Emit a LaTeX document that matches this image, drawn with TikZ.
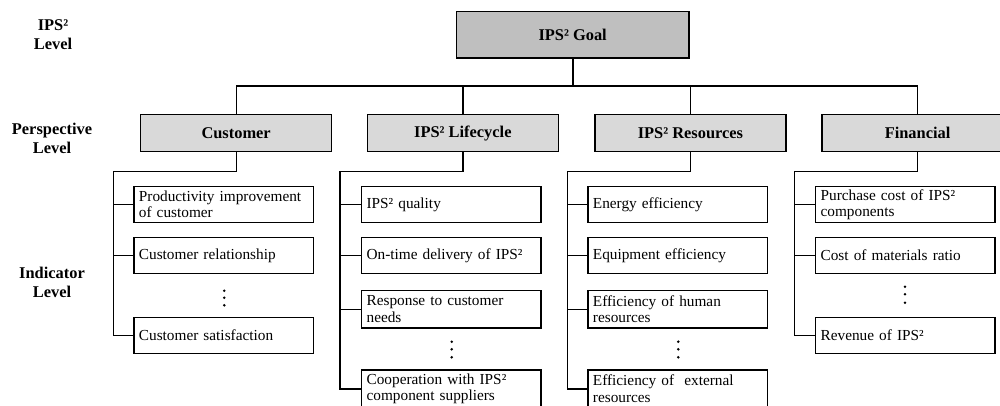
\documentclass[tikz,border=0pt]{standalone}
\usepackage{fontspec}
\setmainfont{Liberation Serif}
\definecolor{goalgray}{RGB}{191,191,191}
\definecolor{persgray}{RGB}{217,217,217}
\begin{document}
\begin{tikzpicture}[x=1pt,y=-1pt,
  ln/.style={line width=1.3pt},
  goalbox/.style={draw, line width=1.3pt, fill=goalgray, anchor=north west,
    minimum width=232.6pt, minimum height=46.6pt, inner sep=0pt,
    font=\bfseries\fontsize{16.4}{19}\selectfont},
  persbox/.style={draw, line width=1.3pt, fill=persgray, anchor=north west,
    minimum width=191pt, minimum height=36.7pt, inner sep=0pt,
    font=\bfseries\fontsize{16.4}{19}\selectfont},
  indbox/.style={draw, line width=1.2pt, fill=white, anchor=north west,
    text width=169.4pt, inner xsep=5pt, inner ysep=0pt, minimum height=36.4pt,
    align=left, font=\fontsize{15.3}{16.5}\selectfont},
  levlab/.style={align=center, font=\bfseries\fontsize{16.4}{19}\selectfont}]
\useasboundingbox (0,0) rectangle (1000,405);
\begin{scope}
\clip (0,0) rectangle (1000,405);
% level labels
\node[levlab] (lv1) at (53,35) {IPS²\\Level};
\node[levlab] (lv2) at (52,138) {Perspective\\Level};
\node[levlab] (lv3) at (52,282) {Indicator\\Level};
% goal
\node[goalbox] (goal) at (455.7,10.7) {IPS² Goal};
% perspectives
\node[persbox] (cust) at (140,114) {Customer};
\node[persbox] (life) at (366.7,114) {IPS² Lifecycle};
\node[persbox] (res) at (594.3,114) {IPS² Resources};
\node[persbox] (fin) at (821.4,114) {Financial};
% bus
\coordinate (bus) at (0,86);
\draw[line width=1.8pt] (goal.south) -- (goal.south |- bus);
\draw[ln] (cust.north) |- (bus -| fin.north) -- (fin.north);
\draw[ln] (life.north) -- (life.north |- bus);
\draw[ln] (res.north) -- (res.north |- bus);
% customer indicators
\node[indbox] (c1) at (133.3,185.7) {Productivity improvement\\of customer};
\node[indbox] (c2) at (133.3,236.7) {Customer relationship};
\node[indbox] (c3) at (133.3,316.7) {Customer satisfaction};
% lifecycle indicators
\node[indbox] (l1) at (361,185.7) {IPS² quality};
\node[indbox] (l2) at (361,236.7) {On-time delivery of IPS²};
\node[indbox, minimum height=37.3pt] (l3) at (361,290) {Response to customer\\needs};
\node[indbox, minimum height=38pt] (l4) at (361,369.3) {Cooperation with IPS²\\component suppliers};
% resources indicators
\node[indbox] (r1) at (587.3,185.7) {Energy efficiency};
\node[indbox] (r2) at (587.3,236.7) {Equipment efficiency};
\node[indbox, minimum height=37.3pt] (r3) at (587.3,290) {Efficiency of human\\resources};
\node[indbox, minimum height=38pt] (r4) at (587.3,369.3) {Efficiency of~ external\\resources};
% financial indicators
\node[indbox] (f1) at (815,185.7) {Purchase cost of IPS²\\components};
\node[indbox] (f2) at (815,236.7) {Cost of materials ratio};
\node[indbox] (f3) at (815,316.7) {Revenue of IPS²};
% indicator connectors
\draw[ln] (cust.south) -- ++(0,19.3) -| ([xshift=-20pt]c3.west) -- (c3.west);
\draw[ln] (c1.west) -- ++(-20,0);
\draw[ln] (c2.west) -- ++(-20,0);
\draw[ln] (life.south) -- ++(0,19.3) -| ([xshift=-21pt]l4.west) -- (l4.west);
\draw[ln] (l1.west) -- ++(-21,0);
\draw[ln] (l2.west) -- ++(-21,0);
\draw[ln] (l3.west) -- ++(-21,0);
\draw[ln] (res.south) -- ++(0,19.3) -| ([xshift=-20pt]r4.west) -- (r4.west);
\draw[ln] (r1.west) -- ++(-20,0);
\draw[ln] (r2.west) -- ++(-20,0);
\draw[ln] (r3.west) -- ++(-20,0);
\draw[ln] (fin.south) -- ++(0,19.3) -| ([xshift=-20.7pt]f3.west) -- (f3.west);
\draw[ln] (f1.west) -- ++(-20.7,0);
\draw[ln] (f2.west) -- ++(-20.7,0);
% vertical ellipses
\foreach \y in {290.7,297.7,305.3} \fill (224.3,\y) circle (1.4pt);
\foreach \y in {341.7,349.3,357.3} \fill (451.7,\y) circle (1.4pt);
\foreach \y in {341.7,349.3,357.3} \fill (678.3,\y) circle (1.4pt);
\foreach \y in {286.7,294.3,302.7} \fill (905,\y) circle (1.4pt);
\end{scope}
\end{tikzpicture}
\end{document}
